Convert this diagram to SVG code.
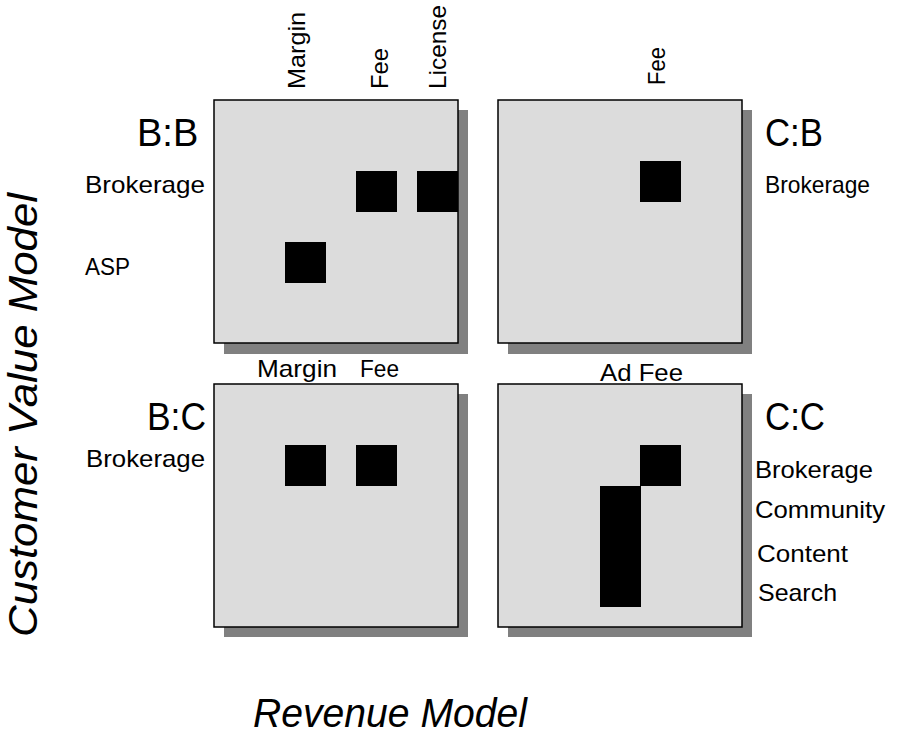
<svg xmlns="http://www.w3.org/2000/svg" width="897" height="734" viewBox="0 0 897 734">
  <style>
    .shadow { fill: #808080; }
    .panel { fill: #dcdcdc; stroke: #000; stroke-width: 1.5; }
    .cell { fill: #000; }
    text { font-family: "Liberation Sans", Arial, sans-serif; fill: #000; }
    .big { font-size: 38px; }
    .lbl { font-size: 24px; }
    .axis { font-size: 40px; font-style: italic; }
  </style>

  <!-- Axis titles -->
  <g id="axis-y">
    <text class="axis" transform="translate(37,637) rotate(-90)" textLength="444" lengthAdjust="spacingAndGlyphs">Customer Value Model</text>
  </g>
  <g id="axis-x">
    <text class="axis" x="253" y="727" font-size="39" textLength="274" lengthAdjust="spacingAndGlyphs">Revenue Model</text>
  </g>

  <!-- B:B quadrant -->
  <g id="quad-bb">
    <rect class="shadow" x="224" y="110" width="244" height="244"/>
    <rect class="panel" x="214" y="100" width="244" height="243"/>
    <rect class="cell" x="356" y="171" width="41" height="41"/>
    <rect class="cell" x="417" y="171" width="41" height="41"/>
    <rect class="cell" x="285" y="242" width="41" height="41"/>
    <text class="big" x="137" y="146">B:B</text>
    <text class="lbl" x="85" y="193" font-size="25" textLength="120" lengthAdjust="spacingAndGlyphs">Brokerage</text>
    <text class="lbl" x="85" y="275" textLength="45" lengthAdjust="spacingAndGlyphs">ASP</text>
    <text class="lbl" transform="translate(305,89) rotate(-90)" textLength="77" lengthAdjust="spacingAndGlyphs">Margin</text>
    <text class="lbl" transform="translate(388,89) rotate(-90)" textLength="41" lengthAdjust="spacingAndGlyphs">Fee</text>
    <text class="lbl" transform="translate(446,89) rotate(-90)" textLength="84" lengthAdjust="spacingAndGlyphs">License</text>
  </g>

  <!-- C:B quadrant -->
  <g id="quad-cb">
    <rect class="shadow" x="508" y="110" width="244" height="244"/>
    <rect class="panel" x="498" y="100" width="244" height="243"/>
    <rect class="cell" x="640" y="161" width="41" height="41"/>
    <text class="big" x="765" y="146" textLength="58" lengthAdjust="spacingAndGlyphs">C:B</text>
    <text class="lbl" x="765" y="193" font-size="22" textLength="105" lengthAdjust="spacingAndGlyphs">Brokerage</text>
    <text class="lbl" transform="translate(665,85) rotate(-90)" textLength="38" lengthAdjust="spacingAndGlyphs">Fee</text>
  </g>

  <!-- B:C quadrant -->
  <g id="quad-bc">
    <rect class="shadow" x="224" y="394" width="244" height="243"/>
    <rect class="panel" x="214" y="384" width="244" height="243"/>
    <rect class="cell" x="285" y="445" width="41" height="41"/>
    <rect class="cell" x="356" y="445" width="41" height="41"/>
    <text class="big" x="147" y="430" textLength="59" lengthAdjust="spacingAndGlyphs">B:C</text>
    <text class="lbl" x="86" y="467" textLength="119" lengthAdjust="spacingAndGlyphs">Brokerage</text>
    <text class="lbl" x="257" y="377" textLength="80" lengthAdjust="spacingAndGlyphs">Margin</text>
    <text class="lbl" x="360" y="377" textLength="39" lengthAdjust="spacingAndGlyphs">Fee</text>
  </g>

  <!-- C:C quadrant -->
  <g id="quad-cc">
    <rect class="shadow" x="508" y="394" width="244" height="243"/>
    <rect class="panel" x="498" y="384" width="244" height="243"/>
    <rect class="cell" x="640" y="445" width="41" height="41"/>
    <rect class="cell" x="600" y="486" width="41" height="121"/>
    <text class="big" x="765" y="430" textLength="60" lengthAdjust="spacingAndGlyphs">C:C</text>
    <text class="lbl" x="600" y="381" textLength="83" lengthAdjust="spacingAndGlyphs">Ad Fee</text>
    <text class="lbl" x="755" y="478" textLength="118" lengthAdjust="spacingAndGlyphs">Brokerage</text>
    <text class="lbl" x="755" y="518" textLength="130" lengthAdjust="spacingAndGlyphs">Community</text>
    <text class="lbl" x="757" y="562" textLength="91" lengthAdjust="spacingAndGlyphs">Content</text>
    <text class="lbl" x="758" y="601" textLength="79" lengthAdjust="spacingAndGlyphs">Search</text>
  </g>
</svg>
